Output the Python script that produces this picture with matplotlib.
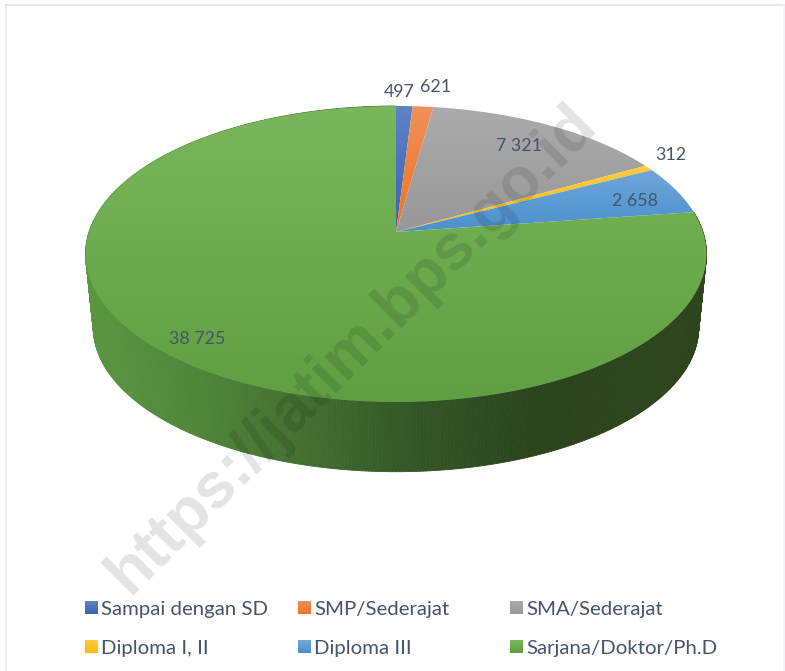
import numpy as np
import matplotlib
matplotlib.use("Agg")
import matplotlib.pyplot as plt
from matplotlib.collections import PolyCollection
from matplotlib.colors import LinearSegmentedColormap, to_rgb
from matplotlib.patches import Polygon

categories = ["Sampai dengan SD", "SMP/Sederajat", "SMA/Sederajat",
              "Diploma I, II", "Diploma III", "Sarjana/Doktor/Ph.D"]
values = [497, 621, 7321, 312, 2658, 38725]
value_labels = ["497", "621", "7 321", "312", "2 658", "38 725"]
watermark = "https://jatim.bps.go.id"

grad_top = ["#5f82c6", "#f0905a", "#ababab", "#ffcb3c", "#6fa6da", "#7ab75c"]
grad_bot = ["#3a62ad", "#ef7424", "#989898", "#fdbc0c", "#4a90cd", "#5f9f41"]
TEXT = "#44546a"
FONT = ["Lato", "DejaVu Sans"]

W, H = 785, 671
fig = plt.figure(figsize=(W / 100, H / 100), dpi=100)
ax = fig.add_axes([0, 0, 1, 1])
ax.set_xlim(0, W)
ax.set_ylim(H, 0)
ax.axis("off")

# pie geometry (perspective view of a disc)
CX, CY, A, B, K = 396.0, 232.0, 307.0, 144.7, 0.1486
DEPTH_Y, DEPTH_S = 74.0, 0.975


def rim(theta, scale=1.0, dy=0.0):
    u, v = np.sin(theta), np.cos(theta)
    w = 1 / (1 + K * v)
    return np.column_stack([CX + scale * A * u * w, CY + dy + scale * B * v * -w * 1.0])


def gradient(x0, x1, y0, y1, c_top, c_bot, clip=None, zorder=2):
    t = np.linspace(0, 1, 128)[:, None, None]
    img = (1 - t) * np.array(to_rgb(c_top))[None, None, :] + t * np.array(to_rgb(c_bot))[None, None, :]
    im = ax.imshow(img, extent=[x0, x1, y1, y0], aspect="auto", zorder=zorder, interpolation="bilinear")
    if clip is not None:
        im.set_clip_path(clip)
    return im


fractions = np.cumsum([0] + values) / sum(values) * 2 * np.pi

# side wall of the last (largest) slice
th = np.linspace(fractions[-2], fractions[-1], 500)
top_rim = rim(th)
bot_rim = rim(th, DEPTH_S, DEPTH_Y)
side_cmap = LinearSegmentedColormap.from_list(
    "side",
    [(0.0, "#5a9640"), (0.19, "#4f8439"), (0.35, "#436f31"), (0.50, "#355a28"),
     (0.72, "#2b441c"), (1.0, "#2d451c")])
quads = [[top_rim[i], top_rim[i + 1], bot_rim[i + 1], bot_rim[i]] for i in range(len(th) - 1)]
mids = (top_rim[:-1, 0] + top_rim[1:, 0]) / 2
cols = side_cmap((mids - 85) / 621)
ax.add_collection(PolyCollection(quads, facecolors=cols, edgecolors=cols, linewidths=0.6, zorder=1))

# top faces
for i in range(len(values)):
    th = np.linspace(fractions[i], fractions[i + 1], 300)
    pts = np.vstack([[CX, CY], rim(th)])
    poly = Polygon(pts, closed=True, transform=ax.transData, facecolor="none", edgecolor="none")
    ax.add_patch(poly)
    gradient(pts[:, 0].min(), pts[:, 0].max(), pts[:, 1].min(), pts[:, 1].max(),
             grad_top[i], grad_bot[i], clip=poly, zorder=2 + i * 0.01)
ax.set_xlim(0, W)
ax.set_ylim(H, 0)

# data labels
label_pos = [(399.5, 92), (436, 87), (519, 146), (671, 155), (635, 201), (197.5, 339)]
for (x, y), s in zip(label_pos, value_labels):
    ax.text(x, y, s, color=TEXT, fontsize=12.8, family=FONT, ha="center", va="center", zorder=5)

# legend
square_x = [85, 298, 510]
text_x = [101, 314, 526]
row_y = [608, 647]
for i, name in enumerate(categories):
    c, r = i % 3, i // 3
    gradient(square_x[c], square_x[c] + 12.5, row_y[r] - 6.5, row_y[r] + 6.5,
             grad_top[i], grad_bot[i], zorder=5)
    ax.text(text_x[c], row_y[r] + 1.5, name, color=TEXT, fontsize=14.7, family=FONT,
            ha="left", va="center", zorder=5)
ax.set_xlim(0, W)
ax.set_ylim(H, 0)

# frame
ax.plot([5.5, 5.5], [H, 4.5], color="#e6e9f1", lw=1.2, zorder=0)
ax.plot([5.5, 784], [4.5, 4.5], color="#e0e4ee", lw=1.2, zorder=0)
ax.plot([784, 784], [4.5, H], color="#f1f2f6", lw=1.2, zorder=0)

# watermark
ax.text(352, 349, watermark, rotation=45, rotation_mode="anchor", ha="center", va="center",
        fontsize=46, fontweight="bold", family="Liberation Sans", color="black", alpha=0.11, zorder=6)

fig.savefig("out.png", dpi=100, facecolor="white")
